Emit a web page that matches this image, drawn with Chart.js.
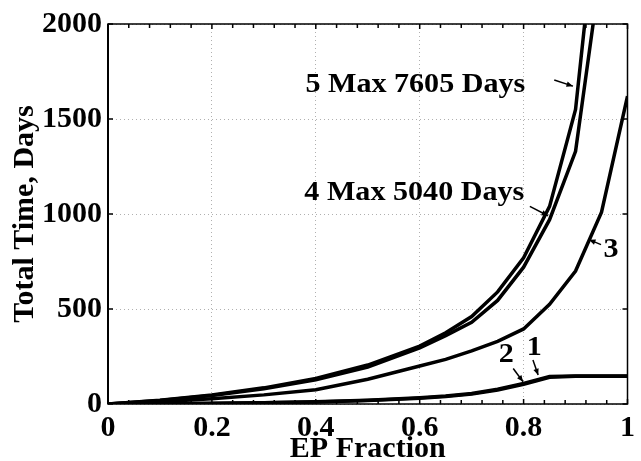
<!DOCTYPE html>
<html>
<head>
<meta charset="utf-8">
<script src="https://cdn.jsdelivr.net/npm/chart.js@4.4.1/dist/chart.umd.min.js"></script>
<style>
    body { margin: 0; background: #fff; }
    canvas { display: block; }
</style>
</head>
<body>
<canvas id="timeChart" width="641" height="461"></canvas>
<script>
const epFraction = [0, 0.1, 0.2, 0.3, 0.4, 0.5, 0.6, 0.65, 0.7, 0.75, 0.8, 0.85, 0.9, 0.95, 1.0];
const days1 = [0, 1, 4, 7, 12, 20, 33, 42, 55, 78, 108, 145, 148, 148, 148];
const days2 = [0, 1, 3, 6, 10, 18, 30, 39, 52, 74, 104, 141, 146, 146, 146];
const days3 = [0, 12, 28, 48, 75, 130, 200, 235, 280, 330, 395, 525, 700, 1010, 1620];
const days4 = [0, 19, 45, 80, 128, 195, 295, 360, 430, 545, 720, 970, 1330, 2320, 5040];
const days5 = [0, 20, 47, 85, 135, 205, 305, 375, 460, 590, 770, 1040, 1550, 2830, 7605];

const xTicks = [0, 0.2, 0.4, 0.6, 0.8, 1];
const yTicks = [0, 500, 1000, 1500, 2000];

const curveNotes = [
    { text: '5 Max 7605 Days', x: 0.380, y: 1643 },
    { text: '4 Max 5040 Days', x: 0.378, y: 1075 },
    { text: '3', x: 0.954, y: 773 },
    { text: '2', x: 0.752, y: 222 },
    { text: '1', x: 0.806, y: 257 }
];

const noteArrows = [
    { x1: 0.859, y1: 1705, x2: 0.895, y2: 1673 },
    { x1: 0.812, y1: 1040, x2: 0.847, y2: 991 },
    { x1: 0.949, y1: 839, x2: 0.926, y2: 865 },
    { x1: 0.780, y1: 187, x2: 0.799, y2: 117 },
    { x1: 0.818, y1: 231, x2: 0.828, y2: 152 }
];

const serif = "'Liberation Serif', 'Times New Roman', serif";

const toPoints = function (values) {
    return values.map((v, i) => ({ x: epFraction[i], y: v }));
};

const makeSet = function (label, values) {
    return {
        label: label,
        data: toPoints(values),
        borderColor: '#000',
        borderWidth: 3.5,
        pointRadius: 0,
        tension: 0,
        fill: false
    };
};

// frame, inward ticks, curve labels and arrows
const decorations = {
    id: 'decorations',
    afterDraw(chart) {
        const ctx = chart.ctx;
        const xs = chart.scales.x;
        const ys = chart.scales.y;
        const area = chart.chartArea;

        ctx.save();
        ctx.strokeStyle = '#000';
        ctx.lineWidth = 1.5;

        for (let i = 0; i <= 25; i++) {
            const px = xs.getPixelForValue(i * 0.04);
            const len = i % 5 === 0 ? 5 : 4;
            ctx.beginPath();
            ctx.moveTo(px, area.bottom);
            ctx.lineTo(px, area.bottom - len);
            ctx.moveTo(px, area.top);
            ctx.lineTo(px, area.top + len);
            ctx.stroke();
        }
        yTicks.forEach(v => {
            const py = ys.getPixelForValue(v);
            ctx.beginPath();
            ctx.moveTo(area.left, py);
            ctx.lineTo(area.left + 5, py);
            ctx.moveTo(area.right, py);
            ctx.lineTo(area.right - 5, py);
            ctx.stroke();
        });

        ctx.strokeRect(area.left, area.top, area.right - area.left, area.bottom - area.top);
        ctx.lineWidth = 2;
        ctx.beginPath();
        ctx.moveTo(area.left, area.top);
        ctx.lineTo(area.left, area.bottom);
        ctx.stroke();

        ctx.fillStyle = '#000';
        ctx.font = 'bold 28px ' + serif;
        ctx.textAlign = 'left';
        ctx.textBaseline = 'alphabetic';
        curveNotes.forEach(n => {
            ctx.save();
            ctx.translate(xs.getPixelForValue(n.x), ys.getPixelForValue(n.y));
            ctx.scale(1.075, 1);
            ctx.fillText(n.text, 0, 0);
            ctx.restore();
        });

        ctx.lineWidth = 1.5;
        noteArrows.forEach(a => {
            const x1 = xs.getPixelForValue(a.x1);
            const y1 = ys.getPixelForValue(a.y1);
            const x2 = xs.getPixelForValue(a.x2);
            const y2 = ys.getPixelForValue(a.y2);
            const ang = Math.atan2(y2 - y1, x2 - x1);
            ctx.beginPath();
            ctx.moveTo(x1, y1);
            ctx.lineTo(x2, y2);
            ctx.stroke();
            ctx.beginPath();
            ctx.moveTo(x2, y2);
            ctx.lineTo(x2 - 7 * Math.cos(ang - 0.4), y2 - 7 * Math.sin(ang - 0.4));
            ctx.lineTo(x2 - 7 * Math.cos(ang + 0.4), y2 - 7 * Math.sin(ang + 0.4));
            ctx.closePath();
            ctx.fill();
        });
        ctx.restore();
    }
};

const data = {
    datasets: [
        makeSet('1', days1),
        makeSet('2', days2),
        makeSet('3', days3),
        makeSet('4', days4),
        makeSet('5', days5)
    ]
};

const config = {
    type: 'line',
    data: data,
    options: {
        responsive: false,
        animation: false,
        devicePixelRatio: 1,
        layout: {
            padding: { left: 0, right: 7, top: 22, bottom: 0 }
        },
        plugins: {
            legend: { display: false },
            tooltip: { enabled: false }
        },
        scales: {
            x: {
                type: 'linear',
                min: 0,
                max: 1,
                afterBuildTicks: scale => { scale.ticks = xTicks.map(v => ({ value: v })); },
                afterFit: scale => { scale.height = 57; },
                grid: { color: '#b0b0b0', lineWidth: 1, drawTicks: false },
                border: { display: false, dash: [1, 3] },
                ticks: {
                    color: '#000',
                    padding: 6,
                    font: { family: serif, size: 30, weight: 'bold' },
                    callback: v => String(+v.toFixed(2))
                },
                title: {
                    display: true,
                    text: 'EP Fraction',
                    color: '#000',
                    padding: 0,
                    font: { family: serif, size: 30, weight: 'bold', lineHeight: 0.8 }
                }
            },
            y: {
                min: 0,
                max: 2000,
                afterBuildTicks: scale => { scale.ticks = yTicks.map(v => ({ value: v })); },
                afterFit: scale => { scale.width = 108; },
                grid: { color: '#b0b0b0', lineWidth: 1, drawTicks: false },
                border: { display: false, dash: [1, 3] },
                ticks: {
                    color: '#000',
                    padding: 6,
                    font: { family: serif, size: 30, weight: 'bold' },
                    callback: v => String(v)
                },
                title: {
                    display: true,
                    text: 'Total Time, Days',
                    color: '#000',
                    padding: { top: 13, bottom: 0 },
                    font: { family: serif, size: 30, weight: 'bold', lineHeight: 0.8 }
                }
            }
        }
    },
    plugins: [decorations]
};

const timeChart = new Chart(document.getElementById('timeChart'), config);
</script>
</body>
</html>
